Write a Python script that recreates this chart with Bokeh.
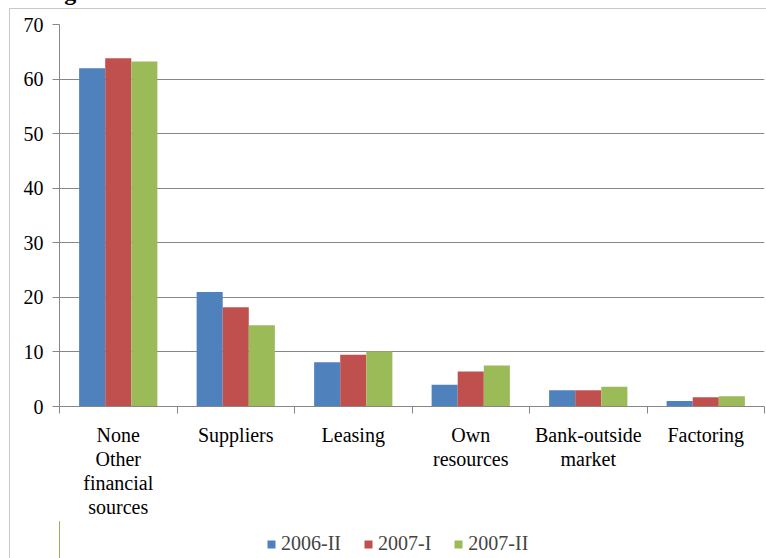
from bokeh.plotting import figure
from bokeh.models import (ColumnDataSource, LinearAxis, Range1d, FixedTicker,
                          Legend, LegendItem, Div)
from bokeh.layouts import column
from bokeh.transform import dodge
from bokeh.embed import file_html
from bokeh.resources import INLINE

categories = ["None Other financial sources", "Suppliers", "Leasing",
              "Own resources", "Bank-outside market", "Factoring"]
# category labels split into the lines shown under the axis
label_lines = [
    ["None", "Suppliers", "Leasing", "Own", "Bank-outside", "Factoring"],
    ["Other", "", "", "resources", "market", ""],
    ["financial", "", "", "", "", ""],
    ["sources", "", "", "", "", ""],
]
series_names = ["2006-II", "2007-I", "2007-II"]
v2006_II = [62.0, 21.0, 8.1, 4.0, 3.0, 1.0]
v2007_I = [63.8, 18.2, 9.5, 6.4, 3.0, 1.7]
v2007_II = [63.2, 14.9, 10.1, 7.5, 3.6, 1.9]
y_ticks = [0, 10, 20, 30, 40, 50, 60, 70]
title_text = "Figure 4: Other Financial Sources of SMEs"

colors = ["#4F81BD", "#C0504D", "#9BBB59"]
FONT = "Liberation Serif"
GRID = "#878787"

n = len(categories)
centers = [i + 0.5 for i in range(n)]
src = ColumnDataSource(dict(x=centers, cat=categories, a=v2006_II, b=v2007_I, c=v2007_II))

p = figure(width=757, height=512, x_range=Range1d(0, n),
           y_range=Range1d(0, 70), output_backend="svg", toolbar_location=None,
           x_axis_location=None, y_axis_location=None,
           min_border_left=49, min_border_top=15, min_border_right=3, min_border_bottom=115)
p.outline_line_color = None
p.background_fill_color = "white"
p.border_fill_color = "white"

bw = 0.222
fields = ["a", "b", "c"]
offsets = [-bw, 0, bw]
renderers = []
for field, off, col in zip(fields, offsets, colors):
    r = p.vbar(x=dodge("x", off), top=field, width=bw, source=src,
               fill_color=col, line_color=None)
    renderers.append(r)

# y axis
yax = LinearAxis(ticker=FixedTicker(ticks=y_ticks))
yax.axis_line_color = GRID
yax.major_tick_line_color = GRID
yax.major_tick_out = 7
yax.major_tick_in = 0
yax.minor_tick_line_color = None
yax.major_label_standoff = 9
yax.major_label_text_font = FONT
yax.major_label_text_font_size = "20px"
yax.major_label_text_color = "black"
p.add_layout(yax, "left")

p.xgrid.visible = False
p.ygrid.ticker = FixedTicker(ticks=y_ticks)
p.ygrid.grid_line_color = GRID
p.ygrid.grid_line_width = 1

# boundary ticks between categories (Excel style), as minor ticks without labels
tax = LinearAxis(ticker=FixedTicker(ticks=[], minor_ticks=list(range(n + 1))))
tax.axis_line_color = GRID
tax.major_tick_line_color = None
tax.minor_tick_line_color = GRID
tax.minor_tick_out = 7
tax.minor_tick_in = 0
tax.major_tick_out = 7
tax.major_label_standoff = 0
p.add_layout(tax, "below")

# category label lines, one axis per text line
standoffs = [10, -1, -1, -1]
for i, lines in enumerate(label_lines):
    ticks = [c for c, t in zip(centers, lines) if t]
    overrides = {}
    for c, t in zip(centers, lines):
        if t:
            overrides[c] = t
            overrides[str(c)] = t
    ax = LinearAxis(ticker=FixedTicker(ticks=ticks, minor_ticks=[]))
    ax.axis_line_color = None
    ax.major_tick_line_color = None
    ax.minor_tick_line_color = None
    ax.major_tick_out = 0
    ax.major_tick_in = 0
    ax.major_label_standoff = standoffs[i]
    ax.major_label_text_font = FONT
    ax.major_label_text_font_size = "20px"
    ax.major_label_text_color = "black"
    ax.major_label_overrides = overrides
    p.add_layout(ax, "below")

# legend in its own strip below the chart (same data, drawn off-range so only swatches show)
lp = figure(width=757, height=37, x_range=Range1d(100, 101), y_range=Range1d(0, 1),
            output_backend="svg", toolbar_location=None,
            min_border_left=49, min_border_right=3, min_border_top=0, min_border_bottom=0,
            x_axis_location=None, y_axis_location=None)
lp.grid.visible = False
lp.outline_line_color = None
lp.background_fill_color = "white"
lp.border_fill_color = "white"
swatches = [lp.vbar(x="x", top=field, width=bw, source=src, fill_color=col, line_color=None)
            for field, col in zip(fields, colors)]
legend = Legend(items=[LegendItem(label=nm, renderers=[r]) for nm, r in zip(series_names, swatches)],
                orientation="horizontal", location=(207, 3))
legend.border_line_color = None
legend.background_fill_alpha = 0
legend.padding = 0
legend.margin = 0
legend.spacing = 22
legend.glyph_width = 10
legend.glyph_height = 10
legend.label_standoff = 5
legend.label_height = 20
legend.label_text_font = FONT
legend.label_text_font_size = "20px"
legend.label_text_baseline = "middle"
lp.add_layout(legend, "center")

title_div = Div(text=('<div style="position:relative; top:-23px; left:43px; white-space:nowrap; '
                      'font-family:\'Liberation Serif\'; font-weight:bold; font-size:24px; '
                      'line-height:30px; color:black;">' + title_text + '</div>'),
                width=766, height=8, margin=0, styles={"overflow": "hidden"})

chart = column(p, lp, spacing=0,
               styles={"border-top": "1px solid #c8c8c8", "border-left": "1px solid #c8c8c8"})
chart.margin = (0, 0, 0, 9)
layout = column(title_div, chart, spacing=0)
open("out.html", "w").write(file_html(layout, INLINE))
